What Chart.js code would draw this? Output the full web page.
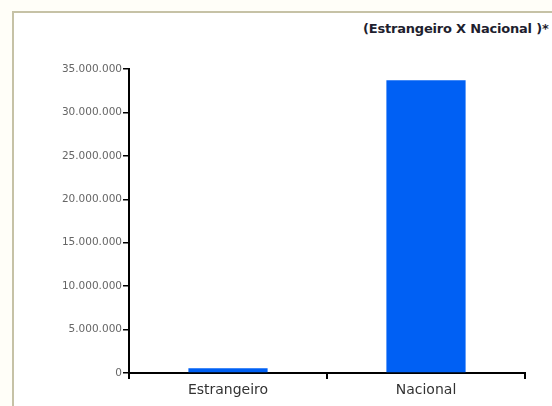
<!DOCTYPE html>
<html>
<head>
<meta charset="utf-8">
<script src="https://cdn.jsdelivr.net/npm/chart.js@4.4.0/dist/chart.umd.min.js"></script>
<style>
  html, body { margin: 0; padding: 0; background: #fffef8; overflow: hidden; }
  .frame {
    position: absolute; left: 12px; top: 11px; width: 600px; height: 450px;
    border-left: 2px solid #c6c2a6; border-top: 2px solid #c6c2a6;
    background: #ffffff;
  }
  .chart-wrapper { position: absolute; left: 0; top: 0; width: 552px; height: 406px; }
  .title {
    position: absolute; left: 363px; top: 21px; white-space: nowrap;
    font: bold 13px "DejaVu Sans", sans-serif; color: #1e1e2e; letter-spacing: -0.2px;
  }
</style>
</head>
<body>
<div class="frame"></div>
<div class="title">(Estrangeiro X Nacional )*</div>
<div class="chart-wrapper">
  <canvas id="origemChart" width="552" height="406"></canvas>
</div>
<script>
// values
const categories = ['Estrangeiro', 'Nacional'];
const visitantes = [550000, 33700000];
const yTicks = [0, 5000000, 10000000, 15000000, 20000000, 25000000, 30000000, 35000000];

const formatDots = (v) => String(v).replace(/\B(?=(\d{3})+(?!\d))/g, '.');

const ctx = document.getElementById('origemChart');

new Chart(ctx, {
  type: 'bar',
  data: {
    labels: categories,
    datasets: [
      {
        label: 'Visitantes',
        data: visitantes,
        backgroundColor: '#0060f4',
        borderWidth: 0,
        barPercentage: 0.40,
        categoryPercentage: 1.0,
      },
    ],
  },
  options: {
    responsive: false,
    animation: false,
    layout: {
      padding: { top: 69, right: 27, left: 0, bottom: 0 },
    },
    plugins: {
      legend: { display: false },
      tooltip: { enabled: false },
    },
    scales: {
      x: {
        grid: {
          display: true,
          drawOnChartArea: false,
          offset: true,
          tickLength: 6,
          color: '#000',
          lineWidth: 2,
        },
        border: { color: '#000', width: 2 },
        ticks: {
          color: '#333',
          padding: 3,
          font: { family: 'DejaVu Sans', size: 14 },
        },
        afterFit: (scale) => { scale.height = 33; },
      },
      y: {
        min: 0,
        max: yTicks[yTicks.length - 1],
        afterBuildTicks: (scale) => {
          scale.ticks = yTicks.map(v => ({ value: v }));
        },
        grid: {
          display: true,
          drawOnChartArea: false,
          tickLength: 6,
          color: '#000',
          lineWidth: 1.5,
        },
        border: { color: '#000', width: 2 },
        ticks: {
          color: '#666',
          padding: 1,
          font: { family: 'DejaVu Sans', size: 10.5 },
          callback: (v) => formatDots(v),
        },
        afterFit: (scale) => { scale.width = 129; },
      },
    },
  },
});
</script>
</body>
</html>
